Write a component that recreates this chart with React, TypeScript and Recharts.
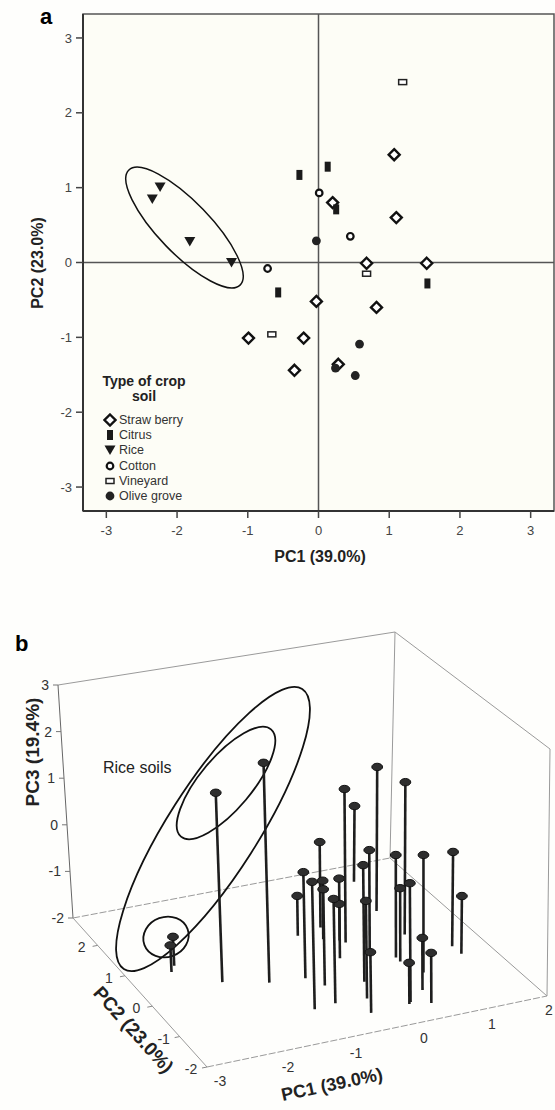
import React from 'react';
import { ScatterChart, Scatter, XAxis, YAxis, ReferenceLine, ReferenceArea } from 'recharts';

const FONT = 'Arial, "Liberation Sans", Helvetica, sans-serif';

// PCA scores of the soils, one set of arrays per crop type
const strawberryPC1 = [1.07, 0.2, 1.1, 0.68, 1.53, -0.03, 0.82, -0.21, 0.28, -0.34, -0.99];
const strawberryPC2 = [1.44, 0.8, 0.6, -0.01, -0.01, -0.52, -0.6, -1.01, -1.36, -1.44, -1.01];
const strawberryPC3 = [1.08, -0.7, 1.21, 0.13, -0.03, 0.39, 0.42, -0.02, 0.4, -0.78, 0.57];

const citrusPC1 = [0.13, -0.27, 0.25, 1.54, -0.57];
const citrusPC2 = [1.28, 1.17, 0.71, -0.28, -0.4];
const citrusPC3 = [-0.19, -1.16, 1.22, -0.8, -0.03];

const ricePC1 = [-2.24, -2.35, -1.82, -1.23];
const ricePC2 = [1.01, 0.85, 0.28, 0.0];
const ricePC3 = [-1.4, -1.45, 1.89, 2.51];

const cottonPC1 = [0.01, 0.45, -0.72];
const cottonPC2 = [0.93, 0.35, -0.08];
const cottonPC3 = [-0.77, 0.09, 0.18];

const vineyardPC1 = [1.19, 0.68, -0.66];
const vineyardPC2 = [2.41, -0.15, -0.96];
const vineyardPC3 = [-0.35, -0.48, 0.11];

const olivePC1 = [-0.03, 0.58, 0.24, 0.52];
const olivePC2 = [0.29, -1.09, -1.41, -1.51];
const olivePC3 = [-0.87, -0.94, -1.17, -0.99];

const axisTicksA = [-3, -2, -1, 0, 1, 2, 3];
const pc1TicksB = [-3, -2, -1, 0, 1, 2];
const pc2TicksB = [-2, -1, 0, 1, 2];
const pc3TicksB = [-2, -1, 0, 1, 2, 3];

const groups = [
  { name: 'Straw berry', marker: 'diamond', pc1: strawberryPC1, pc2: strawberryPC2, pc3: strawberryPC3 },
  { name: 'Citrus', marker: 'bar', pc1: citrusPC1, pc2: citrusPC2, pc3: citrusPC3 },
  { name: 'Rice', marker: 'triangle', pc1: ricePC1, pc2: ricePC2, pc3: ricePC3 },
  { name: 'Cotton', marker: 'ring', pc1: cottonPC1, pc2: cottonPC2, pc3: cottonPC3 },
  { name: 'Vineyard', marker: 'box', pc1: vineyardPC1, pc2: vineyardPC2, pc3: vineyardPC3 },
  { name: 'Olive grove', marker: 'dot', pc1: olivePC1, pc2: olivePC2, pc3: olivePC3 },
];

function Marker({ kind, cx, cy }: { kind: string; cx: number; cy: number }) {
  switch (kind) {
    case 'diamond':
      return (
        <polygon
          points={`${cx},${cy - 5.5} ${cx + 5.5},${cy} ${cx},${cy + 5.5} ${cx - 5.5},${cy}`}
          fill="#fff"
          stroke="#111"
          strokeWidth={2.4}
        />
      );
    case 'bar':
      return <rect x={cx - 3} y={cy - 5} width={6} height={10} fill="#1a1a1a" />;
    case 'triangle':
      return <polygon points={`${cx - 5.5},${cy - 4.5} ${cx + 5.5},${cy - 4.5} ${cx},${cy + 5}`} fill="#1a1a1a" />;
    case 'ring':
      return <circle cx={cx} cy={cy} r={3.3} fill="#fff" stroke="#111" strokeWidth={2.2} />;
    case 'box':
      return <rect x={cx - 4} y={cy - 2.5} width={8} height={5} fill="#fff" stroke="#222" strokeWidth={1.5} />;
    default:
      return <circle cx={cx} cy={cy} r={4.4} fill="#222" />;
  }
}

// ---------- panel a ----------
const X_DOMAIN_A: [number, number] = [-3.33, 3.33];
const Y_DOMAIN_A: [number, number] = [-3.32, 3.32];
const RICE_ELLIPSE_A = { x: -1.895, y: 0.467 }; // centre, data units
const tickStyleA = { fill: '#444', fontSize: 13, fontFamily: FONT };

function PanelA() {
  return (
    <div style={{ position: 'absolute', left: 0, top: 0, width: 555, height: 600 }}>
      <ScatterChart width={555} height={600} margin={{ top: 14, right: 1, bottom: 0, left: 0 }}>
        <XAxis
          type="number"
          dataKey="x"
          domain={X_DOMAIN_A}
          ticks={axisTicksA}
          allowDataOverflow
          height={89}
          tickSize={7}
          tickMargin={8}
          axisLine={{ stroke: '#333', strokeWidth: 2 }}
          tickLine={{ stroke: '#444', strokeWidth: 1.5 }}
          tick={tickStyleA}
        />
        <YAxis
          type="number"
          dataKey="y"
          domain={Y_DOMAIN_A}
          ticks={axisTicksA}
          allowDataOverflow
          width={83}
          tickSize={7}
          tickMargin={4}
          axisLine={{ stroke: '#333', strokeWidth: 2 }}
          tickLine={{ stroke: '#444', strokeWidth: 1.5 }}
          tick={tickStyleA}
        />
        <ReferenceArea
          x1={X_DOMAIN_A[0]}
          x2={X_DOMAIN_A[1]}
          y1={Y_DOMAIN_A[0]}
          y2={Y_DOMAIN_A[1]}
          fill="#fdfdf6"
          fillOpacity={1}
          stroke="#555"
          strokeWidth={1.5}
        />
        <ReferenceLine x={0} stroke="#555" strokeWidth={1.5} />
        <ReferenceLine y={0} stroke="#555" strokeWidth={1.5} />
        <Scatter
          data={[RICE_ELLIPSE_A]}
          isAnimationActive={false}
          shape={(p: any) => (
            <ellipse
              cx={p.cx}
              cy={p.cy}
              rx={80}
              ry={26}
              fill="none"
              stroke="#111"
              strokeWidth={1.5}
              transform={`rotate(46 ${p.cx} ${p.cy})`}
            />
          )}
        />
        {groups.map((g) => (
          <Scatter
            key={g.name}
            name={g.name}
            data={g.pc1.map((x, i) => ({ x, y: g.pc2[i] }))}
            isAnimationActive={false}
            shape={(p: any) => <Marker kind={g.marker} cx={p.cx} cy={p.cy} />}
          />
        ))}
      </ScatterChart>

      <div style={{ position: 'absolute', left: 40, top: 6, fontSize: 22, fontWeight: 'bold', lineHeight: '22px' }}>a</div>
      <div
        style={{
          position: 'absolute', left: 320, top: 557, transform: 'translate(-50%,-50%)',
          fontSize: 16, fontWeight: 'bold', color: '#222', whiteSpace: 'nowrap',
        }}
      >
        PC1 (39.0%)
      </div>
      <div
        style={{
          position: 'absolute', left: 38, top: 263, transform: 'translate(-50%,-50%) rotate(-90deg)',
          fontSize: 16, fontWeight: 'bold', color: '#222', whiteSpace: 'nowrap',
        }}
      >
        PC2 (23.0%)
      </div>

      {/* legend */}
      <div style={{ position: 'absolute', left: 100, top: 374 }}>
        <div style={{ width: 88, textAlign: 'center', fontWeight: 'bold', fontSize: 14, lineHeight: '15px', color: '#222' }}>
          Type of crop
          <br />
          soil
        </div>
        <div style={{ marginTop: 8 }}>
          {groups.map((g) => (
            <div key={g.name} style={{ display: 'flex', alignItems: 'center', height: 15.3 }}>
              <svg width={14} height={14} style={{ marginLeft: 3 }}>
                <Marker kind={g.marker} cx={7} cy={7} />
              </svg>
              <span style={{ fontSize: 12.5, color: '#333', marginLeft: 2 }}>{g.name}</span>
            </div>
          ))}
        </div>
      </div>
    </div>
  );
}

// ---------- panel b (3D stem plot, projected onto a flat view plane) ----------
const PC1_MIN = -3, PC1_MAX = 2;
const PC2_MIN = -2, PC2_MAX = 2.9;
const PC3_MIN = -2, PC3_MAX = 3;
const VIEW_W = 555, VIEW_H = 510;

type V2 = [number, number];
// box corners in view units: f/b = front/back (PC2), b/t = bottom/top (PC3), l/r = PC1 min/max
const CAM: Record<string, V2> = {
  fbl: [207, 467], fbr: [547, 396], bbl: [73, 318], bbr: [390, 258],
  ftl: [197, 211], ftr: [550, 149], btl: [58, 85], btr: [395, 32],
};
const BOX_EDGES: [string, string, boolean][] = [
  ['btl', 'btr', false], ['bbl', 'btl', false], ['bbr', 'btr', false], ['bbl', 'bbr', true],
  ['btr', 'ftr', false], ['ftr', 'fbr', false], ['bbr', 'fbr', false], ['bbl', 'fbl', false],
  ['fbl', 'fbr', true],
];
// hand drawn rings around the rice soils, view units
const RICE_RINGS = [
  { u: 213, v: 229, rx: 166, ry: 45, angle: -57.5 },
  { u: 226, v: 183, rx: 70, ry: 26, angle: -50 },
  { u: 166, v: 337, rx: 23, ry: 20, angle: -20 },
];

const lerp = (p: V2, q: V2, t: number): V2 => [p[0] + (q[0] - p[0]) * t, p[1] + (q[1] - p[1]) * t];

function project(pc1: number, pc2: number, pc3: number) {
  const a = (pc1 - PC1_MIN) / (PC1_MAX - PC1_MIN);
  const b = (pc2 - PC2_MIN) / (PC2_MAX - PC2_MIN);
  const c = (pc3 - PC3_MIN) / (PC3_MAX - PC3_MIN);
  const floor = lerp(lerp(CAM.fbl, CAM.fbr, a), lerp(CAM.bbl, CAM.bbr, a), b);
  const top = lerp(lerp(CAM.ftl, CAM.ftr, a), lerp(CAM.btl, CAM.btr, a), b);
  const p = lerp(floor, top, c);
  return { u: p[0], v: p[1] };
}

const stems = groups
  .flatMap((g) =>
    g.pc1.map((x, i) => {
      const base = project(x, g.pc2[i], PC3_MIN);
      const head = project(x, g.pc2[i], g.pc3[i]);
      return [
        { ...base, head: false },
        { ...head, head: true },
      ];
    })
  )
  .sort((s1, s2) => s1[0].v - s2[0].v);

const tickFont = { fontSize: 14, fontFamily: FONT, fill: '#333' };

function PanelB() {
  return (
    <div style={{ position: 'absolute', left: 0, top: 600, width: VIEW_W, height: VIEW_H }}>
      <ScatterChart width={VIEW_W} height={VIEW_H} margin={{ top: 0, right: 0, bottom: 0, left: 0 }}>
        <XAxis type="number" dataKey="u" domain={[0, VIEW_W]} allowDataOverflow hide />
        <YAxis type="number" dataKey="v" domain={[0, VIEW_H]} allowDataOverflow reversed hide />
        {BOX_EDGES.map(([p, q, dashed]) => (
          <ReferenceLine
            key={p + q}
            segment={[
              { x: CAM[p][0], y: CAM[p][1] },
              { x: CAM[q][0], y: CAM[q][1] },
            ]}
            stroke={p === 'bbl' && q === 'btl' ? '#666' : '#9a9a9a'}
            strokeWidth={1}
            strokeDasharray={dashed ? '7 2' : undefined}
          />
        ))}
        <Scatter
          data={pc3TicksB.map((t) => ({ ...project(PC1_MIN, PC2_MAX, t), t }))}
          isAnimationActive={false}
          shape={(p: any) => (
            <g>
              <line x1={p.cx - 5} y1={p.cy} x2={p.cx} y2={p.cy} stroke="#777" />
              <text x={p.cx - 9} y={p.cy + 5} textAnchor="end" {...tickFont}>{p.payload.t}</text>
            </g>
          )}
        />
        <Scatter
          data={pc2TicksB.map((t) => ({ ...project(PC1_MIN, t, PC3_MIN), t }))}
          isAnimationActive={false}
          shape={(p: any) => (
            <g>
              <line x1={p.cx - 5} y1={p.cy + 1} x2={p.cx} y2={p.cy} stroke="#888" />
              <text x={p.cx - 16} y={p.cy + 7} textAnchor="middle" {...tickFont}>{p.payload.t}</text>
            </g>
          )}
        />
        <Scatter
          data={pc1TicksB.map((t) => ({ ...project(t, PC2_MIN, PC3_MIN), t }))}
          isAnimationActive={false}
          shape={(p: any) => (
            <text x={Math.min(p.cx + 13, VIEW_W - 6)} y={p.cy + 19} textAnchor="middle" {...tickFont}>
              {p.payload.t}
            </text>
          )}
        />
        {RICE_RINGS.map((r, i) => (
          <Scatter
            key={'ring' + i}
            data={[{ u: r.u, v: r.v }]}
            isAnimationActive={false}
            shape={(p: any) => (
              <ellipse
                cx={p.cx}
                cy={p.cy}
                rx={r.rx}
                ry={r.ry}
                fill="none"
                stroke="#111"
                strokeWidth={1.8}
                transform={`rotate(${r.angle} ${p.cx} ${p.cy})`}
              />
            )}
          />
        ))}
        {stems.map((s, i) => (
          <Scatter
            key={'stem' + i}
            data={s}
            isAnimationActive={false}
            line={{ stroke: '#1e1e1e', strokeWidth: 2.6 }}
            shape={(p: any) =>
              p.payload.head ? (
                <ellipse cx={p.cx} cy={p.cy} rx={5.4} ry={3.7} fill="#2e2e2e" stroke="#111" strokeWidth={1} />
              ) : (
                <g />
              )
            }
          />
        ))}
      </ScatterChart>

      <div style={{ position: 'absolute', left: 15, top: 33, fontSize: 22, fontWeight: 'bold', lineHeight: '22px' }}>b</div>
      <div style={{ position: 'absolute', left: 103, top: 158, fontSize: 16, color: '#222', lineHeight: '20px' }}>Rice soils</div>
      <div
        style={{
          position: 'absolute', left: 33, top: 152, transform: 'translate(-50%,-50%) rotate(-90deg)',
          fontSize: 19, fontWeight: 'bold', color: '#222', whiteSpace: 'nowrap',
        }}
      >
        PC3 (19.4%)
      </div>
      <div
        style={{
          position: 'absolute', left: 133, top: 430, transform: 'translate(-50%,-50%) rotate(48deg)',
          fontSize: 19, fontWeight: 'bold', color: '#222', whiteSpace: 'nowrap',
        }}
      >
        PC2 (23.0%)
      </div>
      <div
        style={{
          position: 'absolute', left: 332, top: 485, transform: 'translate(-50%,-50%) rotate(-12deg)',
          fontSize: 18, fontWeight: 'bold', color: '#222', whiteSpace: 'nowrap',
        }}
      >
        PC1 (39.0%)
      </div>
    </div>
  );
}

export default function App() {
  return (
    <div
      style={{
        position: 'absolute', left: 0, top: 0, width: 555, height: 1110,
        background: '#fefefc', fontFamily: FONT, overflow: 'hidden',
      }}
    >
      <PanelA />
      <PanelB />
    </div>
  );
}
